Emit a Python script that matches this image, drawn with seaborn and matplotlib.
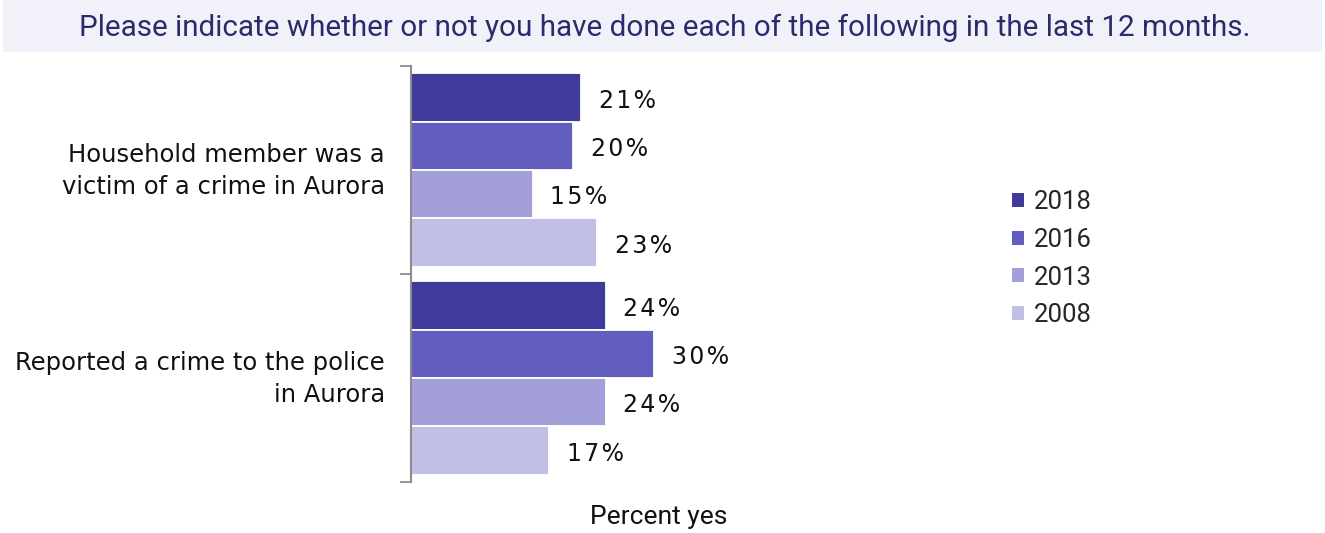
import matplotlib
matplotlib.use("Agg")
import matplotlib.pyplot as plt
from matplotlib.patches import Rectangle
import pandas as pd
import seaborn as sns

# Survey results: share answering "yes", by item and survey year
items = [
    "Household member was a\nvictim of a crime in Aurora",
    "Reported a crime to the police\nin Aurora",
]
years = ["2018", "2016", "2013", "2008"]
pct_2018 = [21, 24]
pct_2016 = [20, 30]
pct_2013 = [15, 24]
pct_2008 = [23, 17]

colors = ["#403a9a", "#645dc0", "#a29fd9", "#c2bfe6"]
title_text = "Please indicate whether or not you have done each of the following in the last 12 months."

series = {"2018": pct_2018, "2016": pct_2016, "2013": pct_2013, "2008": pct_2008}
rows = []
for year in years:
    for item, val in zip(items, series[year]):
        rows.append({"item": item, "year": year, "pct": val})
df = pd.DataFrame(rows)

sns.set_theme(style="white")
plt.rcParams["font.family"] = ["Roboto", "DejaVu Sans"]

W, H, DPI = 1325, 533, 100
fig = plt.figure(figsize=(W / DPI, H / DPI), dpi=DPI)

# Title band
fig.patches.append(Rectangle((3 / W, 1 - 52 / H), 1319 / W, 52 / H,
                             transform=fig.transFigure, facecolor="#f1f1f9",
                             edgecolor="none", zorder=0))
fig.text(665 / W, 1 - 28 / H, title_text, ha="center", va="center",
         fontsize=21.3, color="#2d2a6b")

ax_left, ax_right, ax_top, ax_bottom = 411, 907, 66, 482
ax = fig.add_axes([ax_left / W, 1 - ax_bottom / H,
                   (ax_right - ax_left) / W, (ax_bottom - ax_top) / H])

sns.barplot(data=df, y="item", x="pct", hue="year", hue_order=years,
            order=items, palette=colors, saturation=1, orient="h", width=0.93,
            edgecolor="white", linewidth=1.3, ax=ax, legend=True)

ax.set_xlim(0, 61.2)
ax.set_ylim(1.5, -0.5)
ax.set_xlabel("")
ax.set_ylabel("")
ax.set_xticks([])

# Category labels between boundary ticks
ax.set_yticks([-0.5, 0.5, 1.5])
ax.set_yticklabels([])
ax.tick_params(axis="y", which="major", direction="out", length=8,
               width=1.3, color="#8c8c8c", left=True)
for i, item in enumerate(items):
    ax.text(-26 / 8.1, i + 0.005, item, ha="right", va="center", fontsize=17.5,
            color="#111111", linespacing=1.42, family=["DejaVu Sans"])

for side in ["top", "right", "bottom"]:
    ax.spines[side].set_visible(False)
ax.spines["left"].set_color("#8c8c8c")
ax.spines["left"].set_linewidth(1.5)
ax.spines["left"].set_zorder(5)

# Value labels
for container in ax.containers:
    for bar in container:
        val = bar.get_width()
        y = bar.get_y() + bar.get_height() / 2
        label = "\u200a".join(f"{val:.0f}%")
        ax.text(val + 2.2, y + 0.015, label, ha="left", va="center",
                fontsize=17, color="#111111", family=["DejaVu Sans"])

fig.text(659 / W, 1 - 517 / H, "Percent yes", ha="center", va="center",
         fontsize=19, color="#111111")

leg = ax.legend(loc="upper left", bbox_to_anchor=(1002 / W, 1 - 180 / H),
                bbox_transform=fig.transFigure, frameon=False,
                fontsize=18.5, handlelength=0.45, handleheight=0.45,
                handletextpad=0.4, labelspacing=0.53, borderaxespad=0)
for h in leg.legend_handles:
    h.set_edgecolor("none")

fig.savefig("out.png", dpi=DPI, facecolor="white")
